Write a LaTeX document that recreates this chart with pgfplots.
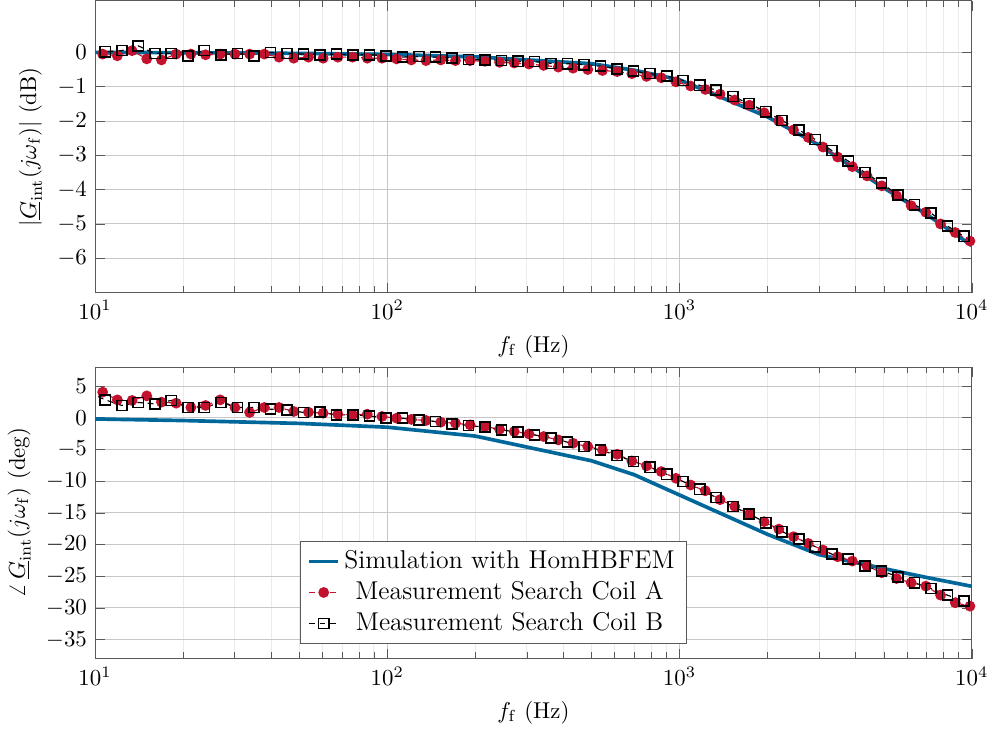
\documentclass[border=0pt]{standalone}
\usepackage{pgfplots}
\usepackage{pgfplotstable}
\pgfplotsset{compat=1.18}
\definecolor{simblue}{RGB}{0,103,155}
\definecolor{measred}{RGB}{195,18,45}

\pgfplotstableread{
f mag ph
10 0.0 -0.2
20 -0.01 -0.45
50 -0.03 -0.9
100 -0.06 -1.5
200 -0.13 -2.9
500 -0.33 -6.8
700 -0.52 -9.0
1000 -0.80 -12.2
2000 -1.88 -18.4
3000 -2.70 -21.6
5000 -3.95 -23.8
7000 -4.72 -25.2
10000 -5.63 -26.6
}\simdata

\pgfplotstableread{
f mag ph
9.456 -0.10 4.2
10.62 -0.05 4.03
11.92 -0.10 2.81
13.39 0.05 2.72
15.03 -0.19 3.44
16.88 -0.22 2.45
18.95 -0.05 2.29
21.28 -0.05 1.61
23.89 -0.07 1.93
26.82 -0.05 2.81
30.11 -0.05 1.61
33.81 -0.05 0.82
37.96 -0.05 1.61
42.62 -0.14 1.61
47.86 -0.17 0.98
53.73 -0.14 0.87
60.33 -0.17 0.71
67.74 -0.14 0.55
76.05 -0.14 0.44
85.39 -0.17 0.55
95.87 -0.17 0.19
107.6 -0.19 -0.08
120.9 -0.22 -0.27
135.7 -0.24 -0.44
152.4 -0.22 -0.71
171.1 -0.24 -0.87
192.1 -0.24 -1.14
215.7 -0.26 -1.39
242.2 -0.29 -1.82
271.9 -0.31 -2.18
305.3 -0.34 -2.56
342.8 -0.38 -2.97
384.9 -0.43 -3.51
432.1 -0.46 -4.03
485.2 -0.50 -4.55
544.8 -0.53 -5.09
611.7 -0.56 -5.77
686.8 -0.62 -6.82
771.1 -0.70 -7.61
865.8 -0.74 -8.50
972.1 -0.86 -9.56
1091 -0.98 -10.62
1225 -1.08 -11.53
1376 -1.22 -12.93
1545 -1.39 -13.98
1734 -1.54 -15.24
1947 -1.76 -16.40
2186 -2.00 -17.57
2455 -2.26 -18.77
2756 -2.48 -19.83
3095 -2.76 -20.88
3475 -3.05 -21.93
3902 -3.33 -22.62
4381 -3.60 -23.41
4919 -3.89 -24.45
5523 -4.18 -25.36
6201 -4.47 -26.03
6962 -4.66 -26.57
7817 -5.00 -27.99
8777 -5.25 -29.19
9856 -5.50 -29.73
}\coilA

\pgfplotstableread{
f mag ph
9.517 -0.20 4.0
10.84 0.02 2.81
12.35 0.05 1.93
14.06 0.19 2.40
16.02 -0.03 2.18
18.24 -0.03 2.72
20.78 -0.10 1.61
23.66 0.05 1.61
26.95 -0.07 2.40
30.69 -0.03 1.61
34.96 -0.10 1.61
39.81 0.00 1.34
45.34 -0.03 1.23
51.64 -0.05 0.82
58.82 -0.07 0.87
66.99 -0.05 0.44
76.30 -0.07 0.44
86.90 -0.07 0.28
98.97 -0.10 -0.08
112.7 -0.14 -0.08
128.4 -0.12 -0.40
146.2 -0.14 -0.60
166.5 -0.16 -0.98
189.7 -0.21 -1.23
216.0 -0.22 -1.50
246.0 -0.24 -1.93
280.2 -0.26 -2.29
319.1 -0.27 -2.72
363.5 -0.32 -3.24
414.0 -0.33 -3.87
471.5 -0.36 -4.55
537.0 -0.40 -5.09
611.7 -0.48 -5.97
696.6 -0.55 -6.92
793.4 -0.62 -7.82
903.6 -0.69 -8.93
1029 -0.82 -10.08
1172 -0.96 -11.30
1335 -1.10 -12.58
1521 -1.29 -14.00
1732 -1.49 -15.20
1972 -1.73 -16.56
2246 -1.99 -17.98
2559 -2.26 -19.15
2914 -2.54 -20.35
3319 -2.86 -21.52
3780 -3.17 -22.30
4305 -3.50 -23.41
4903 -3.81 -24.14
5585 -4.15 -25.09
6361 -4.44 -26.03
7244 -4.68 -26.94
8251 -5.06 -27.99
9397 -5.36 -28.94
}\coilB

\begin{document}
\begin{tikzpicture}
\path (-40.4pt,0.4pt) rectangle (392.7pt,-316.9pt);
\begin{axis}[at={(0pt,0pt)}, anchor=north west,
  xmode=log, xmin=10, xmax=10000,
  xtick={10,100,1000,10000},
  scale only axis, width=383pt, height=127.4pt,
  grid=both,
  major grid style={black!22},
  minor grid style={black!8},
  axis line style={black!65},
  tick style={black!65},
  xlabel={$f_{\mathrm{f}}$ (Hz)},
  ymin=-7, ymax=1.5, ytick={-6,-5,-4,-3,-2,-1,0},
  ylabel={$|\underline{G}_{\mathrm{int}}(j\omega_{\mathrm{f}})|$ (dB)}]
\addplot[simblue, line width=1.6pt, no marks] table[x=f, y=mag] {\simdata};
\addplot[measred, dash pattern=on 2.5pt off 2pt, line width=0.5pt, mark=*, mark size=2.1pt, mark options={solid, fill=measred}] table[x=f, y=mag] {\coilA};
\addplot[black, dash pattern=on 2.5pt off 2pt, line width=0.5pt, mark=square, mark size=2.2pt, mark options={solid, line width=0.7pt}] table[x=f, y=mag] {\coilB};
\end{axis}
\begin{axis}[at={(0pt,-159.9pt)}, anchor=north west,
  xmode=log, xmin=10, xmax=10000,
  xtick={10,100,1000,10000},
  scale only axis, width=383pt, height=127.4pt,
  grid=both,
  major grid style={black!22},
  minor grid style={black!8},
  axis line style={black!65},
  tick style={black!65},
  xlabel={$f_{\mathrm{f}}$ (Hz)},
  ymin=-38, ymax=8, ytick={-35,-30,-25,-20,-15,-10,-5,0,5},
  ylabel={$\angle\,\underline{G}_{\mathrm{int}}(j\omega_{\mathrm{f}})$ (deg)},
  legend cell align=center,
  legend image code/.code={\draw[mark repeat=2,mark phase=2] plot coordinates {(0cm,0cm) (0.22cm,0cm) (0.44cm,0cm)};},
  legend style={at={(0.234,0.051)}, anchor=south west, font=\fontsize{11.25}{13.5}\selectfont, draw=black!65, row sep=0pt, inner xsep=3pt, inner ysep=2pt}]
\addplot[simblue, line width=1.6pt, no marks] table[x=f, y=ph] {\simdata};
\addlegendentry{Simulation with HomHBFEM}
\addplot[measred, dash pattern=on 2.5pt off 2pt, line width=0.5pt, mark=*, mark size=2.1pt, mark options={solid, fill=measred}] table[x=f, y=ph] {\coilA};
\addlegendentry{Measurement Search Coil A}
\addplot[black, dash pattern=on 2.5pt off 2pt, line width=0.5pt, mark=square, mark size=2.2pt, mark options={solid, line width=0.7pt}] table[x=f, y=ph] {\coilB};
\addlegendentry{Measurement Search Coil B}
\end{axis}
\end{tikzpicture}
\end{document}
